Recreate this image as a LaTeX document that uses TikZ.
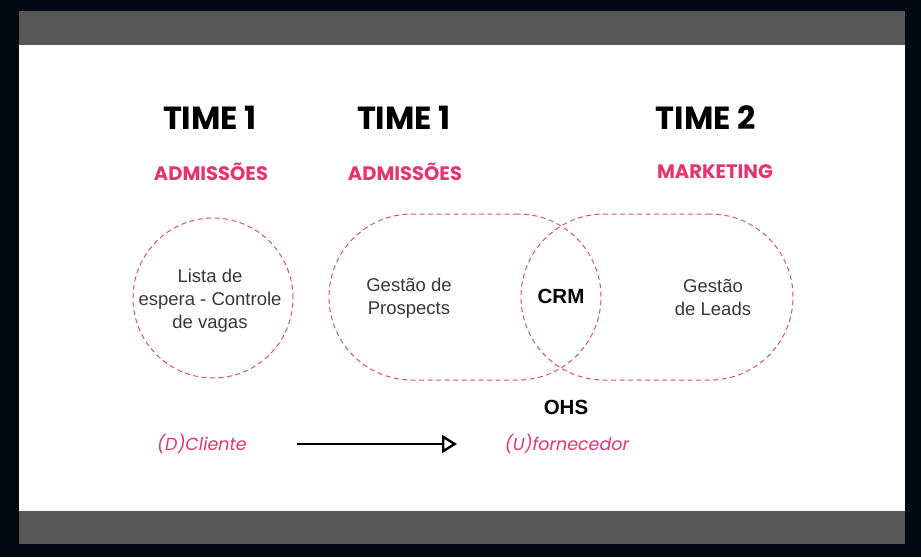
\documentclass[tikz,border=0pt]{standalone}
\usepackage{fontspec}
\setmainfont{Liberation Sans}
\newfontfamily\headfont{Poppins}
\usetikzlibrary{arrows.meta}
\definecolor{darkbg}{RGB}{2,9,18}
\definecolor{barcolor}{RGB}{87,87,87}
\definecolor{pinkcol}{RGB}{232,52,110}
\definecolor{dashcol}{RGB}{218,80,125}
\definecolor{bodytext}{RGB}{55,55,55}

\begin{document}
\begin{tikzpicture}[x=1pt, y=-1pt,
  teamtitle/.style={font=\headfont\bfseries\fontsize{32}{32}\selectfont, text=black},
  teamarea/.style={font=\headfont\bfseries\fontsize{19.5}{19.5}\selectfont, text=pinkcol},
  contextcircle/.style={circle, draw=dashcol, dash pattern=on 5pt off 3.5pt, line width=1pt,
    minimum size=160pt},
  contextpill/.style={rectangle, rounded corners=83pt, draw=dashcol, dash pattern=on 5pt off 3.5pt,
    line width=1pt, minimum width=272pt, minimum height=166pt},
  bodylabel/.style={align=center, text=bodytext, font=\fontsize{18.5}{23}\selectfont},
  boldlabel/.style={font=\bfseries\fontsize{20.5}{20.5}\selectfont, text=black},
  rolelabel/.style={font=\headfont\itshape\fontsize{17.5}{17.5}\selectfont, text=pinkcol}]
  \useasboundingbox (0,0) rectangle (921,557);
  % frame
  \fill[darkbg] (0,0) rectangle (921,557);
  \fill[white] (19,45) rectangle (905,511);
  \fill[barcolor] (19,11) rectangle (905,45);
  \fill[barcolor] (19,511) rectangle (905,544);

  % teams
  \node[teamtitle] (time1a) at (210,118) {TIME 1};
  \node[teamtitle] (time1b) at (404,118) {TIME 1};
  \node[teamtitle] (time2) at (706,118) {TIME 2};
  \node[teamarea] (adm1) at (211,172) {ADMISSÕES};
  \node[teamarea] (adm2) at (405,172) {ADMISSÕES};
  \node[teamarea] (mkt) at (715,172) {MARKETING};

  % contexts
  \node[contextcircle] (espera) at (213,298) {};
  \node[bodylabel] (esperatxt) at (210,301) {Lista de\\espera - Controle\\de vagas};
  \node[contextpill] (prospects) at (465,297) {};
  \node[contextpill] (leads) at (657,297) {};
  \node[bodylabel] (prospectstxt) at (409,298) {Gestão de\\Prospects};
  \node[bodylabel] (leadstxt) at (713,297) {Gestão\\de Leads};
  \node[boldlabel] (crm) at (561,296) {CRM};
  \node[boldlabel] (ohs) at (566,407) {OHS};

  % relationship
  \node[rolelabel] (cliente) at (202,444) {(D)Cliente};
  \node[rolelabel] (fornecedor) at (567,444) {(U)fornecedor};
  \coordinate (arrowstart) at (297,444);
  \coordinate (arrowend) at (457,444);
  \draw[line width=2.4pt, -{Triangle[open, length=15pt, width=18pt, line width=2.4pt]}] (arrowstart) -- (arrowend);
\end{tikzpicture}
\end{document}
